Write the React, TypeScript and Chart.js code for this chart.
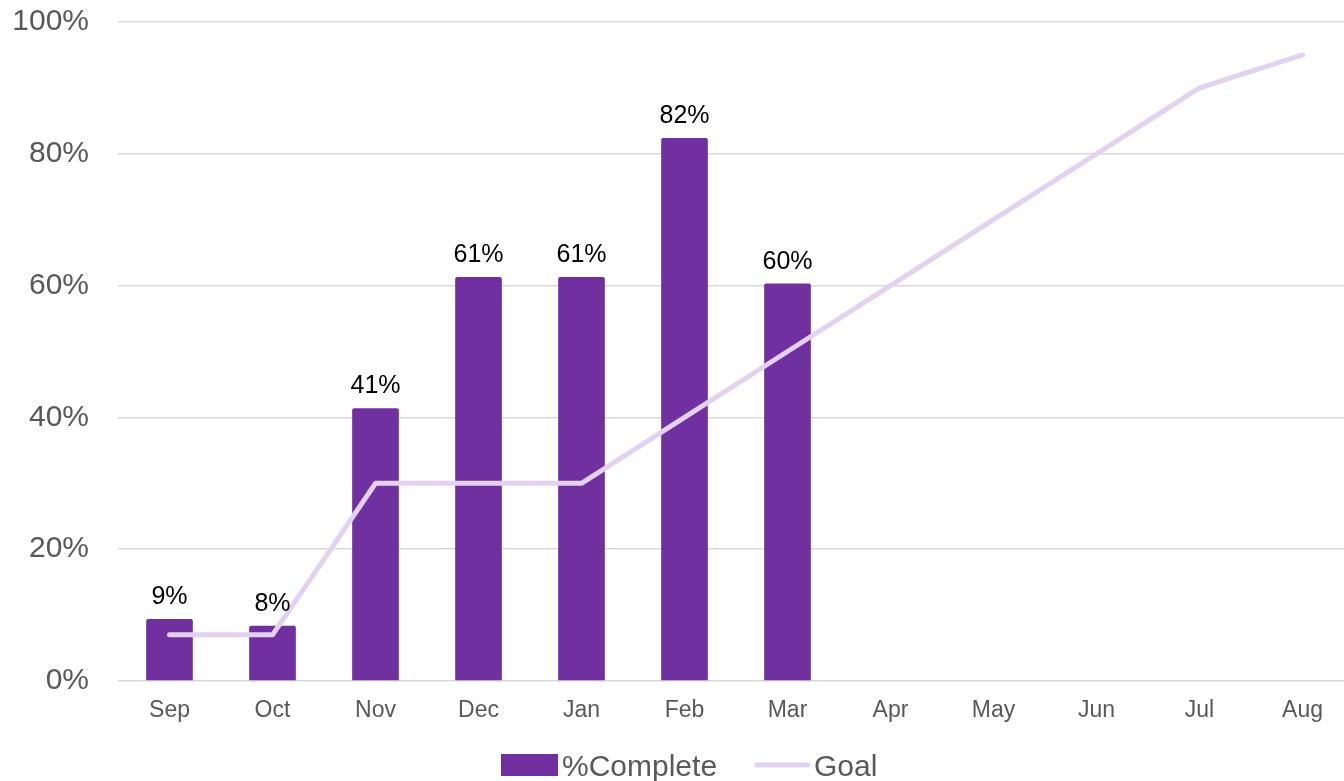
import React, { useEffect, useRef } from "react";
import { Chart, registerables } from "chart.js";

Chart.register(...registerables);

const months = ["Sep", "Oct", "Nov", "Dec", "Jan", "Feb", "Mar", "Apr", "May", "Jun", "Jul", "Aug"];
const completeValues = [9.4, 8.4, 41.4, 61.3, 61.3, 82.4, 60.3, null, null, null, null, null];
const goalValues = [7, 7, 30, 30, 30, 40, 50, 60, 70, 80, 90, 95];
const yTicks = [0, 20, 40, 60, 80, 100];

const FONT = "'Liberation Sans', Arial, sans-serif";
const PURPLE = "#7030A0";
const LAVENDER = "#E2D1F1";
const GRAY_TEXT = "#595959";

const dataLabelPlugin = {
  id: "dataLabels",
  afterDatasetsDraw(chart: any) {
    const ctx = chart.ctx;
    const meta = chart.getDatasetMeta(0);
    ctx.save();
    ctx.font = `25px ${FONT}`;
    ctx.fillStyle = "#000000";
    ctx.textAlign = "center";
    ctx.textBaseline = "alphabetic";
    meta.data.forEach((bar: any, i: number) => {
      const v = chart.data.datasets[0].data[i];
      if (v === null || v === undefined) return;
      ctx.fillText(`${Math.round(v)}%`, bar.x, bar.y - 15);
    });
    ctx.restore();
  },
};

const customLegendPlugin = {
  id: "customLegend",
  afterDraw(chart: any) {
    const ctx = chart.ctx;
    const ds = chart.data.datasets;
    const cy = 765;
    ctx.save();
    ctx.font = `30px ${FONT}`;
    ctx.fillStyle = GRAY_TEXT;
    ctx.textBaseline = "alphabetic";
    ctx.textAlign = "left";
    let x = 501;
    ctx.fillStyle = ds[0].backgroundColor;
    ctx.fillRect(x, cy - 11, 57, 22);
    ctx.fillStyle = GRAY_TEXT;
    ctx.fillText(ds[0].label, x + 61, cy + 11);
    x = 755;
    ctx.strokeStyle = ds[1].borderColor;
    ctx.lineWidth = 5;
    ctx.lineCap = "round";
    ctx.beginPath();
    ctx.moveTo(x + 2, cy);
    ctx.lineTo(x + 53, cy);
    ctx.stroke();
    ctx.fillStyle = GRAY_TEXT;
    ctx.fillText(ds[1].label, x + 59, cy + 11);
    ctx.restore();
  },
};

export default function App() {
  const canvasRef = useRef<HTMLCanvasElement | null>(null);

  useEffect(() => {
    if (!canvasRef.current) return;
    const chart = new Chart(canvasRef.current, {
      type: "bar",
      data: {
        labels: months,
        datasets: [
          {
            type: "bar",
            label: "%Complete",
            data: completeValues as any,
            backgroundColor: PURPLE,
            borderRadius: 2,
            borderSkipped: "bottom",
            barPercentage: 0.906,
            categoryPercentage: 0.5,
            order: 2,
          },
          {
            type: "line",
            label: "Goal",
            data: goalValues,
            borderColor: LAVENDER,
            backgroundColor: LAVENDER,
            borderWidth: 5,
            pointRadius: 0,
            borderCapStyle: "round",
            borderJoinStyle: "round",
            tension: 0,
            order: 1,
          } as any,
        ],
      },
      options: {
        responsive: false,
        animation: false,
        devicePixelRatio: 1,
        layout: { padding: { top: 22, left: 0, right: 0, bottom: 0 } },
        plugins: {
          legend: { display: false },
          tooltip: { enabled: false },
          title: { display: false },
        },
        scales: {
          x: {
            offset: true,
            grid: { display: false, drawTicks: false },
            border: { display: false },
            ticks: {
              color: GRAY_TEXT,
              font: { family: FONT, size: 23 },
              padding: 16,
              maxRotation: 0,
              autoSkip: false,
            },
            afterFit(scale: any) {
              scale.height = 100;
              scale.paddingLeft = 0;
              scale.paddingRight = 0;
            },
          },
          y: {
            min: 0,
            max: 100,
            afterBuildTicks(scale: any) {
              scale.ticks = yTicks.map((v) => ({ value: v }));
            },
            grid: { color: "#D9D9D9", lineWidth: 1.5, drawTicks: false },
            border: { display: false },
            ticks: {
              color: GRAY_TEXT,
              font: { family: FONT, size: 30 },
              padding: 29,
              callback: (v: any) => `${v}%`,
            },
            afterFit(scale: any) {
              scale.width = 118;
              scale.paddingTop = 0;
              scale.paddingBottom = 0;
            },
          },
        },
      },
      plugins: [dataLabelPlugin, customLegendPlugin],
    });
    return () => chart.destroy();
  }, []);

  return (
    <div
      style={{
        position: "fixed",
        left: 0,
        top: 0,
        width: 1344,
        height: 781,
        overflow: "hidden",
        background: "#ffffff",
      }}
    >
      <canvas ref={canvasRef} width={1354} height={781} style={{ display: "block" }} />
    </div>
  );
}
